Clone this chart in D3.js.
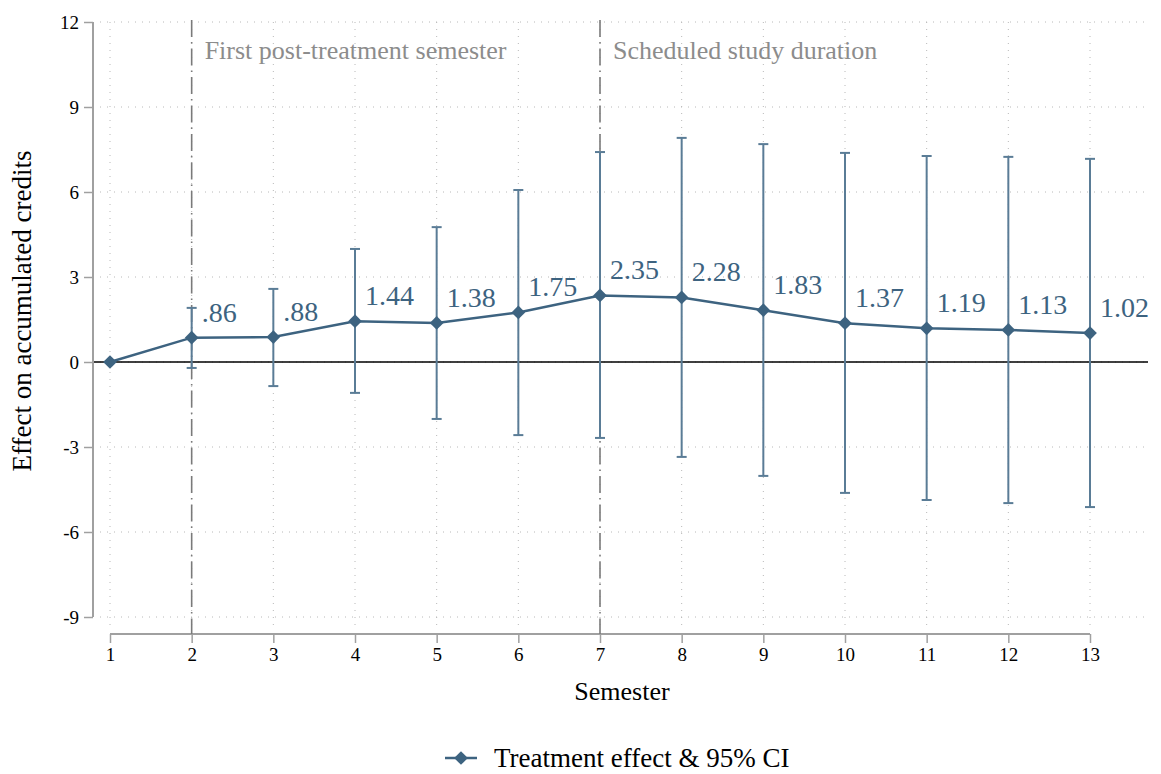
<!DOCTYPE html>
<html>
<head>
<meta charset="utf-8">
<script src="https://cdn.jsdelivr.net/npm/d3@7"></script>
<style>
  body { margin: 0; background: #fff; }
  svg text { font-family: "Liberation Serif", "Times New Roman", serif !important; }
</style>
</head>
<body>
<svg id="chart" width="1161" height="774"></svg>
<script>
"use strict";
// data
const semesters = [1, 2, 3, 4, 5, 6, 7, 8, 9, 10, 11, 12, 13];
const effects = [0, 0.86, 0.88, 1.44, 1.38, 1.75, 2.35, 2.28, 1.83, 1.37, 1.19, 1.13, 1.02];
const ciLow = [null, -0.21, -0.85, -1.09, -2.01, -2.58, -2.68, -3.35, -4.02, -4.62, -4.87, -4.98, -5.12];
const ciHigh = [null, 1.91, 2.58, 3.99, 4.76, 6.07, 7.41, 7.91, 7.69, 7.38, 7.27, 7.24, 7.17];
const pointLabels = ["", ".86", ".88", "1.44", "1.38", "1.75", "2.35", "2.28", "1.83", "1.37", "1.19", "1.13", "1.02"];
const yTicks = [-9, -6, -3, 0, 3, 6, 9, 12];
const markers = [{ at: 2, text: "First post-treatment semester" }, { at: 7, text: "Scheduled study duration" }];

const lineColor = "#3d6380";
const ciColor = "#5a7c96";

const svg = d3.select("#chart");
const x = d3.scaleLinear().domain([1, 13]).range([110, 1090]);
const y = d3.scaleLinear().domain([-9, 12]).range([617, 22]);
const gridRight = 1148;
const xAxisY = 634;
const yAxisX = 93;
const fmt = d => String(d); // plain hyphen minus like the source

// grid
svg.append("g").selectAll("line").data(yTicks).enter().append("line")
    .attr("x1", 100).attr("x2", gridRight)
    .attr("y1", d => y(d)).attr("y2", d => y(d))
    .attr("stroke", "#b8b8b8").attr("stroke-width", 1).attr("stroke-dasharray", "1,6");
svg.append("g").selectAll("line").data(semesters).enter().append("line")
    .attr("x1", d => x(d)).attr("x2", d => x(d))
    .attr("y1", 22).attr("y2", xAxisY - 4)
    .attr("stroke", "#b8b8b8").attr("stroke-width", 1).attr("stroke-dasharray", "1,6");

// zero line
svg.append("line")
    .attr("x1", yAxisX).attr("x2", gridRight)
    .attr("y1", y(0)).attr("y2", y(0))
    .attr("stroke", "#000").attr("stroke-width", 1.3);

// y axis
const yAxis = svg.append("g").attr("transform", `translate(${yAxisX},0)`)
    .call(d3.axisLeft(y).tickValues(yTicks).tickSize(9).tickPadding(5).tickFormat(fmt));
yAxis.select(".domain").attr("stroke", "#a0a0a0").attr("stroke-width", 2).attr("d", `M0,${y(12)}V${y(-9)}`);
yAxis.selectAll(".tick line").attr("stroke", "#a0a0a0").attr("stroke-width", 1.5);
yAxis.selectAll(".tick text").attr("font-size", 19).attr("fill", "#000");

// x axis
const xAxis = svg.append("g").attr("transform", `translate(0,${xAxisY})`)
    .call(d3.axisBottom(x).tickValues(semesters).tickSize(9).tickPadding(5).tickFormat(fmt));
xAxis.select(".domain").attr("stroke", "#a0a0a0").attr("stroke-width", 2).attr("d", `M${x(1)},0H${x(13)}`);
xAxis.selectAll(".tick line").attr("stroke", "#a0a0a0").attr("stroke-width", 1.5);
xAxis.selectAll(".tick text").attr("font-size", 19).attr("fill", "#000");

// event markers
markers.forEach(m => {
    svg.append("line")
        .attr("x1", x(m.at)).attr("x2", x(m.at))
        .attr("y1", 20).attr("y2", xAxisY)
        .attr("stroke", "#7a7a7a").attr("stroke-width", 1.6).attr("stroke-dasharray", "17,5,1.5,5");
    svg.append("text")
        .attr("x", x(m.at) + 13).attr("y", 59)
        .attr("font-size", 26).attr("fill", "#8c8c8c")
        .text(m.text);
});

// confidence intervals
const rows = semesters.map((s, i) => ({ s: s, v: effects[i], lo: ciLow[i], hi: ciHigh[i], lab: pointLabels[i] }));
const ci = rows.filter(d => d.lo !== null);
const gCi = svg.append("g").attr("stroke", ciColor).attr("stroke-width", 2);
gCi.selectAll(".bar").data(ci).enter().append("line")
    .attr("x1", d => x(d.s)).attr("x2", d => x(d.s))
    .attr("y1", d => y(d.lo)).attr("y2", d => y(d.hi));
gCi.selectAll(".capHi").data(ci).enter().append("line")
    .attr("x1", d => x(d.s) - 5).attr("x2", d => x(d.s) + 5)
    .attr("y1", d => y(d.hi)).attr("y2", d => y(d.hi));
gCi.selectAll(".capLo").data(ci).enter().append("line")
    .attr("x1", d => x(d.s) - 5).attr("x2", d => x(d.s) + 5)
    .attr("y1", d => y(d.lo)).attr("y2", d => y(d.lo));

// effect line
svg.append("path").datum(rows)
    .attr("fill", "none").attr("stroke", lineColor).attr("stroke-width", 2.5)
    .attr("d", d3.line().x(d => x(d.s)).y(d => y(d.v)));

const diamond = d3.symbol().type(d3.symbolDiamond2).size(120);
svg.append("g").selectAll("path").data(rows).enter().append("path")
    .attr("transform", d => `translate(${x(d.s)},${y(d.v)})`)
    .attr("d", diamond).attr("fill", lineColor);

// value labels
svg.append("g").selectAll("text").data(rows.filter(d => d.lab)).enter().append("text")
    .attr("x", d => x(d.s) + 10).attr("y", d => y(d.v) - 16)
    .attr("font-size", 28).attr("fill", lineColor)
    .text(d => d.lab);

// axis titles
svg.append("text")
    .attr("x", 622).attr("y", 700).attr("text-anchor", "middle")
    .attr("font-size", 26).text("Semester");
svg.append("text")
    .attr("transform", "translate(31,311) rotate(-90)").attr("text-anchor", "middle")
    .attr("font-size", 27).text("Effect on accumulated credits");

// legend
const lg = svg.append("g").attr("transform", "translate(445,758)");
lg.append("line").attr("x1", 0).attr("x2", 32).attr("y1", 0).attr("y2", 0)
    .attr("stroke", lineColor).attr("stroke-width", 2.5);
lg.append("path").attr("transform", "translate(16,0)").attr("d", diamond).attr("fill", lineColor);
lg.append("text").attr("x", 49).attr("y", 9).attr("font-size", 27).text("Treatment effect & 95% CI");
</script>
</body>
</html>
